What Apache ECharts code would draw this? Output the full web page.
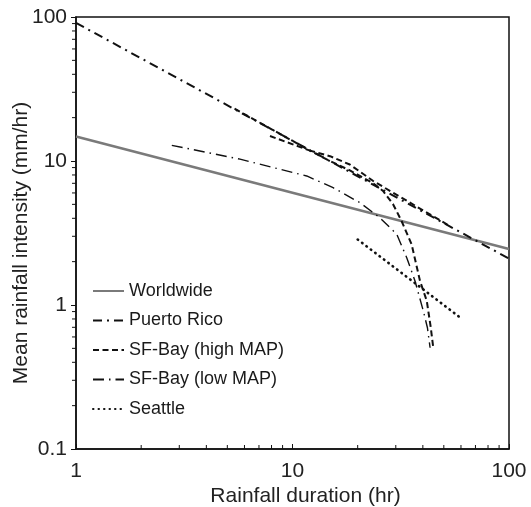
<!DOCTYPE html>
<html>
<head>
<meta charset="utf-8">
<script src="https://cdn.jsdelivr.net/npm/echarts@6/dist/echarts.min.js"></script>
<style>
  html, body { margin: 0; padding: 0; background: #fff; }
  #chart { width: 531px; height: 507px; }
</style>
</head>
<body>
<div id="chart"></div>
<script>
  // values: [duration (hr), intensity (mm/hr)]
  const worldwide = [[1, 14.8], [100, 2.45]];
  const puertoRico = [[1, 91], [100, 2.1]];
  // high MAP is drawn as two dashed curves sharing one legend entry
  const sfHighUpper = [[5.4, 23.1], [12.05, 11.8], [14.9, 10.8], [18.4, 9.45], [23.6, 7.26], [53, 3.55]];
  const sfHighLower = [[7.87, 14.9], [12.05, 11.8], [14.9, 10.0], [18.4, 8.6], [23.6, 7.0], [26.2, 6.19],
    [29.1, 5.03], [31.9, 3.83], [35.5, 2.64], [38.8, 1.47], [41.7, 1.07], [43.5, 0.70], [44.7, 0.505]];
  const sfLow = [[2.77, 12.85], [5.72, 10.3], [11.63, 7.87], [15.4, 6.53], [20.5, 5.13], [25.4, 4.02],
    [30.3, 3.10], [33.7, 2.13], [36.8, 1.47], [40.2, 0.908], [42.0, 0.695], [43.2, 0.505]];
  const seattle = [[20, 2.85], [60, 0.81]];

  const seriesNames = ["Worldwide", "Puerto Rico", "SF-Bay (high MAP)", "SF-Bay (low MAP)", "Seattle"];
  const xTickLabels = { 1: "1", 10: "10", 100: "100" };
  const yTickLabels = { 0.1: "0.1", 1: "1", 10: "10", 100: "100" };
  const xMinorTicks = [2, 3, 4, 5, 6, 7, 8, 9, 20, 30, 40, 50, 60, 70, 80, 90];
  const yMinorTicks = [0.2, 0.3, 0.4, 0.5, 0.6, 0.7, 0.8, 0.9, 2, 3, 4, 5, 6, 7, 8, 9, 20, 30, 40, 50, 60, 70, 80, 90];

  const FONT = "Liberation Sans, Arial, Helvetica, sans-serif";

  const chart = echarts.init(document.getElementById("chart"), null, { renderer: "canvas" });

  const lineSeries = (name, data, lineStyle) => ({
    name: name,
    type: "line",
    data: data,
    showSymbol: false,
    symbol: "none",
    smooth: false,
    silent: true,
    itemStyle: { color: lineStyle.color },
    lineStyle: lineStyle,
  });

  chart.setOption({
    animation: false,
    backgroundColor: "#fff",
    grid: {
      left: 76,
      right: 22,
      top: 17,
      bottom: 58,
      outerBoundsMode: "none",
      containLabel: false,
      show: true,
      borderColor: "#111",
      borderWidth: 1.5,
    },
    legend: {
      data: seriesNames,
      orient: "vertical",
      left: 87,
      top: 277,
      itemWidth: 31,
      itemHeight: 18,
      itemGap: 11.5,
      itemStyle: { opacity: 0 },
      textStyle: { fontFamily: FONT, fontSize: 18, color: "#1a1a1a" },
    },
    xAxis: {
      type: "log",
      logBase: 10,
      min: 1,
      max: 100,
      splitNumber: 2,
      name: "Rainfall duration (hr)",
      nameLocation: "middle",
      nameGap: 37,
      nameMoveOverlap: false,
      nameTextStyle: { fontFamily: FONT, fontSize: 21, color: "#222", padding: [0, 0, 0, 26] },
      axisLine: { lineStyle: { color: "#111", width: 1.5 } },
      axisTick: { inside: true, length: 5, lineStyle: { color: "#111" } },
      axisLabel: {
        fontFamily: FONT,
        fontSize: 21,
        color: "#222",
        margin: 12,
        formatter: (v) => xTickLabels[v] || "",
      },
      splitLine: { show: false },
    },
    yAxis: {
      type: "log",
      logBase: 10,
      min: 0.1,
      max: 100,
      splitNumber: 3,
      name: "Mean rainfall intensity (mm/hr)",
      nameLocation: "middle",
      nameGap: 44,
      nameMoveOverlap: false,
      nameTextStyle: { fontFamily: FONT, fontSize: 21, color: "#222", padding: [0, 20, 0, 0] },
      axisLine: { lineStyle: { color: "#111", width: 1.5 } },
      axisTick: { inside: false, length: 5, lineStyle: { color: "#111" } },
      axisLabel: {
        fontFamily: FONT,
        fontSize: 21,
        color: "#222",
        margin: 9,
        formatter: (v) => yTickLabels[v] || "",
      },
      splitLine: { show: false },
    },
    series: [
      lineSeries("Worldwide", worldwide, { color: "#7a7a7a", width: 2.6, type: "solid" }),
      lineSeries("Puerto Rico", puertoRico, { color: "#111", width: 2, type: [9, 5, 2, 5] }),
      lineSeries("SF-Bay (high MAP)", sfHighUpper, { color: "#111", width: 2, type: [6, 3.5] }),
      lineSeries("SF-Bay (high MAP)", sfHighLower, { color: "#111", width: 2, type: [6, 3.5] }),
      lineSeries("SF-Bay (low MAP)", sfLow, { color: "#111", width: 1.4, type: [11, 5, 1.5, 5] }),
      lineSeries("Seattle", seattle, { color: "#111", width: 2.6, type: [0.5, 5], cap: "round" }),
      {
        name: "xMinor",
        type: "custom",
        silent: true,
        clip: false,
        data: xMinorTicks.map((v) => [v, 0.1]),
        renderItem: (params, api) => {
          const p = api.coord([api.value(0), 0.1]);
          return {
            type: "line",
            shape: { x1: p[0], y1: p[1], x2: p[0], y2: p[1] - 4 },
            style: { stroke: "#111", lineWidth: 1 },
          };
        },
      },
      {
        name: "yMinor",
        type: "custom",
        silent: true,
        clip: false,
        data: yMinorTicks.map((v) => [1, v]),
        renderItem: (params, api) => {
          const p = api.coord([1, api.value(1)]);
          return {
            type: "line",
            shape: { x1: p[0], y1: p[1], x2: p[0] - 4, y2: p[1] },
            style: { stroke: "#111", lineWidth: 1 },
          };
        },
      },
    ],
  });
</script>
</body>
</html>
